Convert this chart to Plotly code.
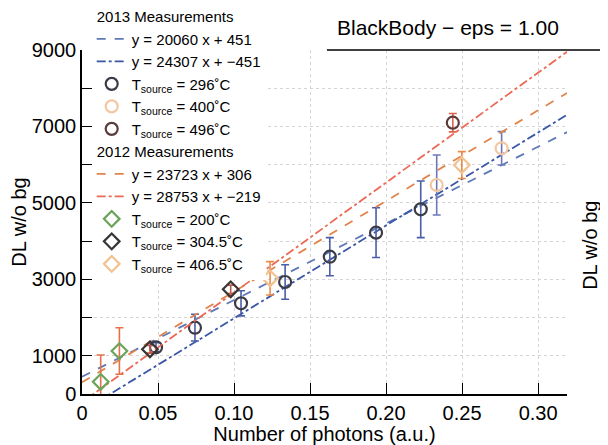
import plotly.graph_objects as go

# ---- data ----
fit_labels = ["y = 20060 x + 451", "y = 24307 x + \u2212451",
              "y = 23723 x + 306", "y = 28753 x + \u2212219"]
fit_slopes = [20060, 24307, 23723, 28753]
fit_intercepts = [451, -451, 306, -219]
fit_x_span = [0.0, 0.319]

# 2013 measurements
t296_x = [0.0487, 0.0743, 0.1046, 0.1336, 0.163, 0.1934, 0.2228]
t296_y = [1222, 1735, 2373, 2930, 3592, 4221, 4832]
t296_err = [120, 350, 330, 450, 500, 650, 740]

t400_x = [0.2333, 0.276]
t400_y = [5468, 6428]
t400_err = [785, 436]

t496_x = [0.2439]
t496_y = [7098]
t496_err = [240]

# 2012 measurements
t200_x = [0.0123, 0.0246]
t200_y = [320, 1125]
t200_err = [700, 610]

t3045_x = [0.0447, 0.0978]
t3045_y = [1170, 2739]
t3045_err = [100, 110]

t4065_x = [0.1237, 0.2498]
t4065_y = [3027, 5990]
t4065_err = [435, 350]

x_tickvals = [0, 0.05, 0.10, 0.15, 0.20, 0.25, 0.30]
x_ticktext = ["0", "0.05", "0.10", "0.15", "0.20", "0.25", "0.30"]
y_tickvals = [0, 1000, 2000, 3000, 4000, 5000, 6000, 7000, 8000, 9000]
y_ticktext = ["0", "1000", "", "3000", "", "5000", "", "7000", "", "9000"]

FONT = "Liberation Sans, Arial, sans-serif"
BIG = 20

fig = go.Figure()

def fit_trace(i, color, dash, group, gtitle=None):
    xs = fit_x_span
    ys = [fit_slopes[i] * x + fit_intercepts[i] for x in xs]
    tr = go.Scatter(x=xs, y=ys, mode="lines", name=fit_labels[i],
                    line=dict(color=color, dash=dash, width=1.8),
                    legendgroup=group)
    if gtitle:
        tr.legendgrouptitle = dict(text=gtitle, font=dict(size=15, family=FONT, color="black"))
    return tr

def meas_trace(xs, ys, err, name, mcolor, ecolor, symbol, group):
    return go.Scatter(x=xs, y=ys, mode="markers", name=name,
                      marker=dict(symbol=symbol, size=12, color=mcolor,
                                  line=dict(color=mcolor, width=2.2)),
                      error_y=dict(type="data", array=err, visible=True,
                                   color=ecolor, thickness=1.6, width=4),
                      legendgroup=group)

tsrc = "T<sub>source</sub> = {}\u02daC"

# 2013 group
fig.add_trace(fit_trace(0, "#5f78b8", "dash", "g2013", "2013 Measurements"))
fig.add_trace(fit_trace(1, "#3a56a6", "dashdot", "g2013"))
fig.add_trace(meas_trace(t296_x, t296_y, t296_err, tsrc.format("296"),
                         "#3b3b45", "#4b5ea8", "circle-open", "g2013"))
fig.add_trace(meas_trace(t400_x, t400_y, t400_err, tsrc.format("400"),
                         "#f4c7a3", "#6c78b8", "circle-open", "g2013"))
fig.add_trace(meas_trace(t496_x, t496_y, t496_err, tsrc.format("496"),
                         "#5a3b3b", "#e0604a", "circle-open", "g2013"))

# 2012 group
fig.add_trace(fit_trace(2, "#e0844c", "dash", "g2012", "2012 Measurements"))
fig.add_trace(fit_trace(3, "#ec6a55", "dashdot", "g2012"))
fig.add_trace(meas_trace(t200_x, t200_y, t200_err, tsrc.format("200"),
                         "#6aa45a", "#e6704a", "diamond-open", "g2012"))
fig.add_trace(meas_trace(t3045_x, t3045_y, t3045_err, tsrc.format("304.5"),
                         "#3a3535", "#c05a4a", "diamond-open", "g2012"))
fig.add_trace(meas_trace(t4065_x, t4065_y, t4065_err, tsrc.format("406.5"),
                         "#f2c291", "#ec8a48", "diamond-open", "g2012"))

grid = dict(showgrid=True, gridcolor="#d4d4d4", griddash="dot", gridwidth=1.2)

fig.update_xaxes(range=[0, 0.319], tickvals=x_tickvals, ticktext=x_ticktext,
                 ticks="inside", ticklen=11, tickwidth=1.3, tickcolor="black",
                 showline=True, linecolor="black", linewidth=1.5, zeroline=False,
                 automargin=False,
                 tickfont=dict(family=FONT, size=BIG, color="black"),
                 title=dict(text="Number of photons (a.u.)", standoff=2,
                            font=dict(family=FONT, size=BIG, color="black")),
                 **grid)
fig.update_yaxes(range=[0, 9000], tickvals=y_tickvals, ticktext=y_ticktext,
                 ticks="inside", ticklen=10, tickwidth=1.3, tickcolor="black",
                 showline=True, linecolor="black", linewidth=1.5, zeroline=False,
                 automargin=False,
                 tickfont=dict(family=FONT, size=BIG, color="black"),
                 title=dict(text="DL w/o bg", standoff=4,
                            font=dict(family=FONT, size=BIG, color="black")),
                 **grid)

txt = dict(family=FONT, size=BIG, color="black")

fig.update_layout(
    width=600, height=437, autosize=False,
    margin=dict(l=74, r=41, t=42, b=51, autoexpand=False),
    paper_bgcolor="white", plot_bgcolor="white",
    font=dict(family=FONT, color="black"),
    showlegend=True,
    legend=dict(x=0.02, y=1.145, xanchor="left", yanchor="top",
                bgcolor="white", borderwidth=0, maxheight=437,
                font=dict(family=FONT, size=15, color="black"),
                tracegroupgap=0, itemwidth=30),
    shapes=[dict(type="line", xref="paper", yref="paper",
                 x0=0.505, x1=1.085, y0=1.0, y1=1.0,
                 line=dict(color="black", width=1.5))],
    annotations=[
        dict(text="BlackBody \u2212 eps = 1.00", xref="paper", yref="paper",
             x=0.755, y=1.025, xanchor="center", yanchor="bottom", showarrow=False,
             font=dict(family=FONT, size=21, color="black")),
        dict(text="DL w/o bg", xref="paper", yref="paper", x=1.047, y=0.433,
             textangle=-90, showarrow=False, xanchor="center", yanchor="middle",
             font=txt),
        dict(text="6", xref="paper", yref="paper", x=1.072, y=0.709,
             showarrow=False, xanchor="left", yanchor="middle", font=txt),
        dict(text="4", xref="paper", yref="paper", x=1.076, y=0.526,
             showarrow=False, xanchor="left", yanchor="middle", font=txt),
        dict(text="2", xref="paper", yref="paper", x=1.076, y=0.259,
             showarrow=False, xanchor="left", yanchor="middle", font=txt),
    ],
)

fig.write_html("out.html")
